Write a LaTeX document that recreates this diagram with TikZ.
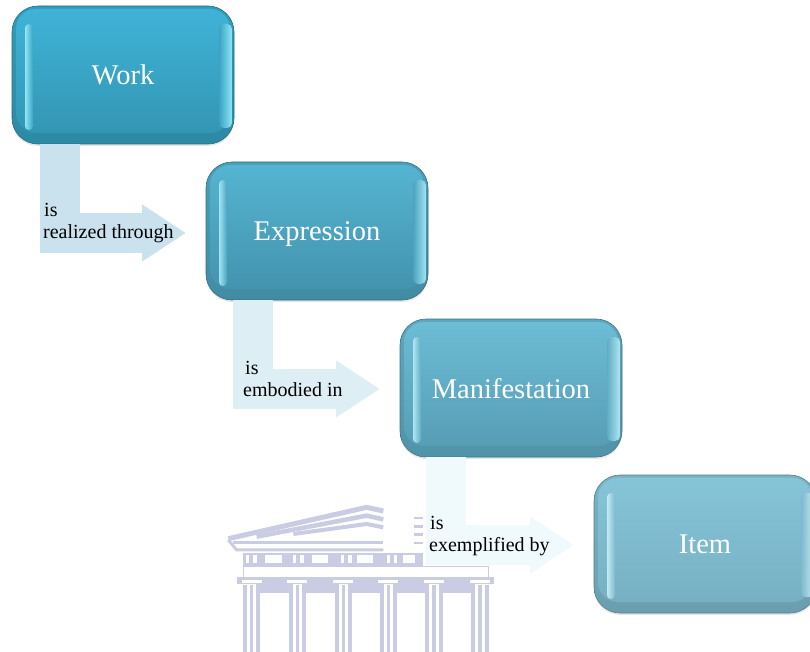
\documentclass[tikz,border=0pt]{standalone}
\usepackage{fontspec}
\setmainfont{Liberation Serif}
\usetikzlibrary{arrows.meta, positioning, shadows}

\definecolor{workTop}{HTML}{3FB4D8}
\definecolor{workBot}{HTML}{3393B1}
\definecolor{workRim}{HTML}{339CBB}
\definecolor{workLit}{HTML}{8FE6F5}
\definecolor{exprTop}{HTML}{55B5D2}
\definecolor{exprBot}{HTML}{4291AB}
\definecolor{exprRim}{HTML}{4A9FB9}
\definecolor{exprLit}{HTML}{9FE4F0}
\definecolor{maniTop}{HTML}{6CBDD6}
\definecolor{maniBot}{HTML}{559BB2}
\definecolor{maniRim}{HTML}{5CA7BF}
\definecolor{maniLit}{HTML}{B0E6F0}
\definecolor{itemTop}{HTML}{86C5D9}
\definecolor{itemBot}{HTML}{76AEC1}
\definecolor{itemRim}{HTML}{79B4C7}
\definecolor{itemLit}{HTML}{C4EAF2}
\definecolor{crest}{HTML}{C9CCE2}
\definecolor{flowA}{HTML}{C9E2ED}
\definecolor{flowB}{HTML}{DDEEF5}
\definecolor{flowC}{HTML}{F0F9FC}

\begin{document}
\begin{tikzpicture}[
        x=1pt, y=-1pt,
        font=\fontsize{20}{22.5}\selectfont,
        base/.style n args={4}{draw=#3!70!black, line width=.6pt, rectangle, rounded corners=26pt,
            minimum width=222pt, minimum height=138pt, inner sep=0pt, outer sep=0pt,
            text=white, text depth=0pt, font=\fontsize{28.5}{32}\selectfont,
            top color=#3, bottom color=#3!88!black,
            drop shadow={opacity=.2, shadow xshift=0pt, shadow yshift=-2pt},
            path picture={
                \shade[top color=#1, bottom color=#2, rounded corners=20pt]
                    ([shift={(4pt,-3pt)}]path picture bounding box.north west) rectangle
                    ([shift={(-4pt,11pt)}]path picture bounding box.south east);
                \shade[left color=#4, right color=#1!50!#2, rounded corners=4pt]
                    ([shift={(13pt,-18pt)}]path picture bounding box.north west) rectangle
                    ([shift={(21pt,-124pt)}]path picture bounding box.north west);
                \shade[left color=#1!50!#2, right color=#4, rounded corners=5pt]
                    ([shift={(-15pt,-18pt)}]path picture bounding box.north east) rectangle
                    ([shift={(-2pt,-122pt)}]path picture bounding box.north east);
            }},
        flow/.style={line width=40pt, -{Triangle[width=54pt,length=44pt]}, shorten >=20pt},
        tag/.style={anchor=north west, align=left, inner sep=0pt},
        crestline/.style={draw=crest, line width=1.5pt}
    ]

    \useasboundingbox (0,0) rectangle (810,652);

    % Crest
    \begin{scope}[shift={(210,450)}, x=.3333pt, y=-.3333pt]
        \draw[crest, line width=5pt] (55,266) -- (470,172) -- (520,183);
        \draw[crest, line width=4.5pt] (140,260) -- (470,197) -- (520,208);
        \draw[crest, line width=4pt] (250,252) -- (470,222) -- (520,232);
        \draw[crest, line width=3.5pt] (70,277) -- (520,277);
        \draw[crest, line width=3pt] (55,270) -- (80,300) -- (520,300);
        \fill[crest] (100,310) rectangle (640,347);
        \foreach \xa/\xb in {165/215, 305/355, 440/490, 580/615, 108/118, 130/142, 248/258, 270/282, 392/402, 415/425, 530/540, 552/562}
            \fill[white] (\xa,316) rectangle (\xb,338);
        \foreach \yy in {205, 230, 255, 280}
            \fill[crest] (612,\yy-5) rectangle (640,\yy+3);
        \draw[crestline] (100,350) rectangle (835,382);
        \fill[crest] (80,382) rectangle (852,402);
        \fill[crest] (125,402) rectangle (815,430);
        \foreach \xc in {125, 262, 400, 535, 672, 810} {
            \fill[white] (\xc-30,391) rectangle (\xc+30,398);
            \fill[white] (\xc-14,402) rectangle (\xc+14,430);
            \fill[crest] (\xc-26,404) rectangle (\xc-14,606);
            \fill[crest] (\xc-5,404) rectangle (\xc+5,606);
            \fill[crest] (\xc+14,404) rectangle (\xc+26,606);
        }
    \end{scope}

    % Nodes
    \node[base={workTop}{workBot}{workRim}{workLit}] (work) at (123,75) {Work};
    \node[base={exprTop}{exprBot}{exprRim}{exprLit}, below right=18pt and -28pt of work] (expression) {Expression};
    \node[base={maniTop}{maniBot}{maniRim}{maniLit}, below right=19pt and -28pt of expression] (manifestation) {Manifestation};
    \node[base={itemTop}{itemBot}{itemRim}{itemLit}, below right=18pt and -28pt of manifestation] (item) {Item};

    % Arrows
    \draw[flow, color=flowA] ([xshift=48pt]work.south west) |- ([yshift=-2pt]expression.west);
    \draw[flow, color=flowB] ([xshift=47pt]expression.south west) |- ([yshift=-1pt]manifestation.west);
    \draw[flow, color=flowC] ([xshift=46pt]manifestation.south west) |- ([yshift=-1pt]item.west);

    % Labels
    \node[tag] (workTag) at (43,203) {\hspace{1pt}is\\realized through};
    \node[tag] (expressionTag) at (243,361) {\hspace{2pt}is\\embodied in};
    \node[tag] (manifestationTag) at (429,516) {\hspace{1pt}is\\exemplified by};

\end{tikzpicture}
\end{document}
